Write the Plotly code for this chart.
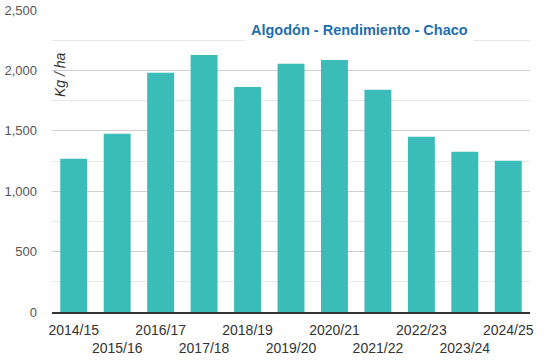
import plotly.graph_objects as go

categories = ["2014/15", "2015/16", "2016/17", "2017/18", "2018/19", "2019/20",
              "2020/21", "2021/22", "2022/23", "2023/24", "2024/25"]
values = [1268, 1475, 1980, 2128, 1862, 2055, 2087, 1840, 1450, 1327, 1252]
y_ticks = [0, 500, 1000, 1500, 2000, 2500]

ticktext = [c if i % 2 == 0 else "<br>" + c for i, c in enumerate(categories)]

fig = go.Figure()
fig.add_trace(go.Bar(x=categories, y=values, marker_color="#3bbcb9",
                     marker_line_width=0))

fig.update_layout(
    width=551, height=360,
    margin=dict(l=52, r=21, t=10, b=48),
    paper_bgcolor="white", plot_bgcolor="white",
    bargap=0.38,
    showlegend=False,
    font=dict(family="Liberation Sans, Arial, sans-serif", size=13, color="#444"),
)
fig.update_xaxes(
    tickmode="array", tickvals=categories, ticktext=ticktext,
    tickangle=0, automargin=False,
    showline=True, linecolor="#333", linewidth=1.5,
    ticks="", tickfont=dict(size=14, color="#333"),
    ticklabelstandoff=4,
    showgrid=False,
)
fig.update_yaxes(
    range=[0, 2500], tickvals=y_ticks, tickformat=",", automargin=False,
    showgrid=True, gridcolor="#cfcfcf", gridwidth=1,
    minor=dict(dtick=250, showgrid=True, gridcolor="#e8e8e8", gridwidth=1),
    zeroline=False, ticks="", tickfont=dict(size=13, color="#555"),
    ticklabelstandoff=14,
)
fig.add_annotation(
    text="<b>Algodón - Rendimiento - Chaco</b>", xref="paper", yref="paper",
    x=0.644, y=0.934, xanchor="center", yanchor="middle",
    showarrow=False, bgcolor="white", borderpad=5,
    font=dict(size=14.5, color="#1f6fae"),
)
fig.add_annotation(
    text="<i>Kg / ha</i>", xref="paper", yref="paper",
    x=0.017, y=0.785, xanchor="center", yanchor="middle",
    showarrow=False, textangle=-90,
    font=dict(size=14, color="#333"),
)

fig.write_html(
    "out.html",
    config={"displayModeBar": False},
    post_script="document.body.style.margin='0';document.body.style.overflow='hidden';",
)
